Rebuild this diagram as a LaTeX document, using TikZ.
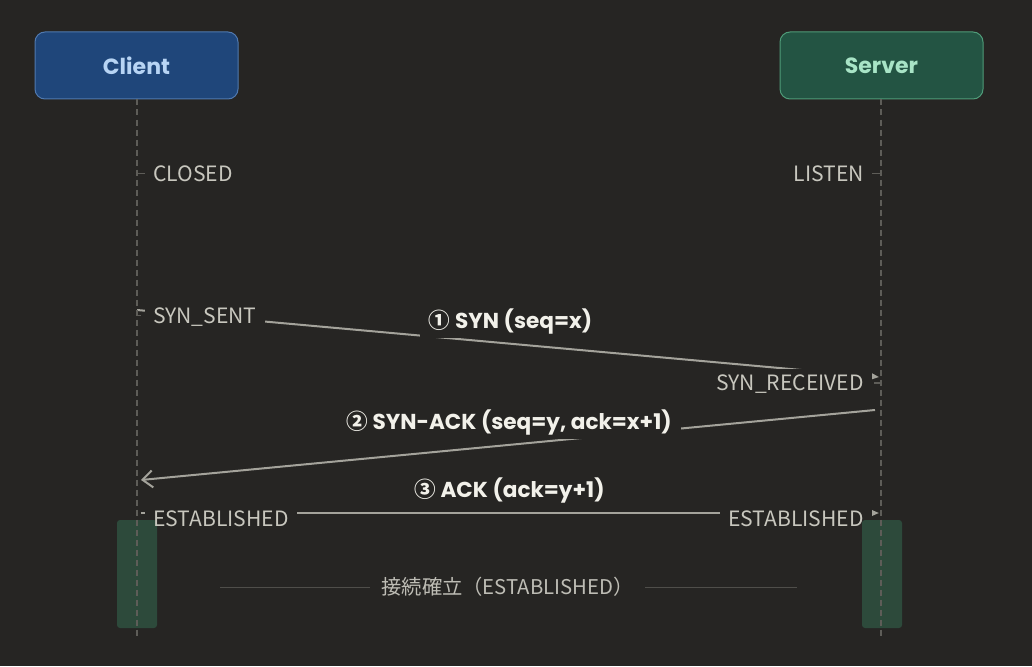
\documentclass[tikz,border=0pt]{standalone}
\usepackage{fontspec}
\setmainfont{Poppins}
\newfontfamily\cjk{Noto Sans CJK JP}
\usetikzlibrary{arrows.meta}
\pgfdeclarelayer{bgl}
\pgfdeclarelayer{back}
\pgfdeclarelayer{mid}
\pgfsetlayers{bgl,back,mid,main}
\definecolor{bg}{HTML}{262523}
\definecolor{lifec}{HTML}{5E5D58}
\definecolor{statec}{HTML}{C8C7BE}
\definecolor{msgc}{HTML}{F2F1EA}
\definecolor{arrc}{HTML}{A4A39B}
\definecolor{cfill}{HTML}{1F467A}
\definecolor{cborder}{HTML}{5079AF}
\definecolor{ctext}{HTML}{B7D4F4}
\definecolor{sfill}{HTML}{235443}
\definecolor{sborder}{HTML}{4F9B78}
\definecolor{stext}{HTML}{A8E4C6}
\definecolor{barc}{HTML}{2D4A3B}
\definecolor{notec}{HTML}{BEBDB5}
\definecolor{sepc}{HTML}{4F4E4A}
\tikzset{
  actor/.style={rounded corners=10pt, line width=1pt, minimum width=203pt, minimum height=67pt,
    font=\fontsize{22}{26}\selectfont\bfseries},
  state/.style={fill=bg, text=statec, inner xsep=8pt, inner ysep=7pt, text height=15pt, text depth=0pt,
    font=\cjk\fontsize{21.1}{24}\selectfont},
  msg/.style={fill=bg, text=msgc, inner xsep=9pt, inner ysep=3pt, font=\fontsize{21.6}{25}\selectfont\bfseries},
  life/.style={draw=lifec, line width=1.3pt, dash pattern=on 6pt off 4pt},
  tickline/.style={draw=lifec, line width=1.3pt},
  arrline/.style={draw=arrc, line width=2pt},
  bar/.style={fill=barc, rounded corners=3pt},
  note/.style={fill=bg, text=notec, inner xsep=11pt, font=\cjk\fontsize{20.3}{24}\selectfont},
  sep/.style={draw=sepc, line width=1pt},
}
\newcommand{\circnum}[1]{{\cjk\bfseries #1}}
\begin{document}
\begin{tikzpicture}[x=1pt,y=-1pt]
\begin{pgfonlayer}{bgl}
\fill[bg] (0,0) rectangle (1032,666);
\end{pgfonlayer}
\useasboundingbox (0,0) rectangle (1032,666);

% actors
\node[actor, fill=cfill, draw=cborder, text=ctext] (client) at (136.5,65.5) {Client};
\node[actor, fill=sfill, draw=sborder, text=stext] (server) at (881.5,65.5) {Server};

% lifeline ends
\coordinate (cbot) at (137,636);
\coordinate (sbot) at (881,636);

% message endpoints
\coordinate (a1s) at (137,310);
\coordinate (a1e) at (879,377);
\coordinate (a2s) at (875,410);
\coordinate (a2e) at (141,480);
\coordinate (a3s) at (141,513);
\coordinate (a3e) at (879,513);

% arrows (below label fills)
\begin{pgfonlayer}{back}
\draw[arrline, -{Triangle[length=10pt,width=8pt]}] (a1s) -- (a1e);
\draw[arrline, -{Straight Barb[length=10pt,width=17pt,line width=2pt]}] (a2s) -- (a2e);
\draw[arrline, -{Triangle[length=10pt,width=8pt]}] (a3s) -- (a3e);
\end{pgfonlayer}

% activation bars
\node[bar, minimum width=40pt, minimum height=108pt, inner sep=0pt] (cbar) at (137,574) {};
\node[bar, minimum width=40pt, minimum height=108pt, inner sep=0pt] (sbar) at (882,574) {};

% lifelines
\draw[life] (client.south -| cbot) -- (cbot);
\draw[life] (server.south -| sbot) -- (sbot);

% ticks
\coordinate (tc) at (145,173.5);
\coordinate (tl) at (872,173.5);
\coordinate (ts) at (141,315.5);
\coordinate (tr) at (874,383);
\draw[tickline] (tc -| cbot) -- (tc);
\draw[tickline] (tl -| sbot) -- (tl);
\draw[tickline] (ts -| cbot) -- (ts);
\draw[tickline] (tr -| sbot) -- (tr);

% state labels
\node[state, anchor=west] (closed) at (145,173.5) {CLOSED};
\node[state, anchor=east] (listen) at (872,173.5) {LISTEN};
\node[state, anchor=west] (synsent) at (145,315.5) {SYN\_SENT};
\node[state, anchor=east] (synrcvd) at (872,383) {SYN\_RECEIVED};
\node[state, fill=none, anchor=west] (estc) at (145,519) {ESTABLISHED};
\node[state, fill=none, anchor=east] (ests) at (872,519) {ESTABLISHED};
\begin{pgfonlayer}{mid}
\fill[bg] (estc.south west) rectangle (estc.north east);
\fill[bg] (ests.south west) rectangle (ests.north east);
\end{pgfonlayer}

% message labels
\node[msg] (m1) at (510.5,322) {\circnum{①} SYN (seq=x)};
\node[msg] (m2) at (509,423) {\circnum{②} SYN-ACK (seq=y, ack=x+1)};
\node[msg, fill=none] (m3) at (509.5,490) {\circnum{③} ACK (ack=y+1)};

% bottom note
\coordinate (sepl) at (220,587);
\coordinate (sepr) at (797,587);
\draw[sep] (sepl) -- (sepr);
\node[note] (note) at (507.5,587) {接続確立（ESTABLISHED）};
\end{tikzpicture}
\end{document}
